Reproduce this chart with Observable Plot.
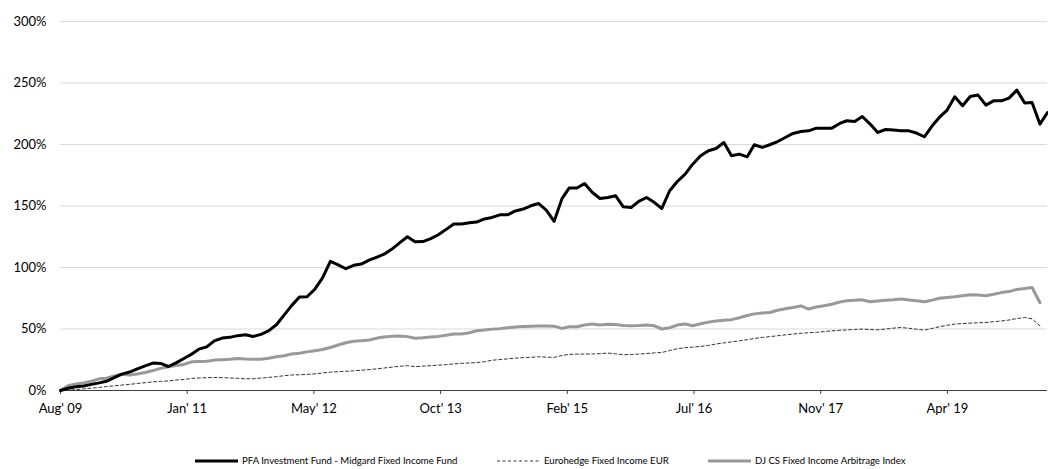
<!DOCTYPE html>
<html>
<head>
<meta charset="utf-8">
<script src="https://cdn.jsdelivr.net/npm/d3@7"></script>
<script src="https://cdn.jsdelivr.net/npm/@observablehq/plot@0.6"></script>
<style>
  html, body { margin: 0; padding: 0; background: #fff; }
  body { width: 1048px; height: 469px; overflow: hidden; font-family: Lato, "DejaVu Sans", sans-serif; }
  #chart { position: relative; width: 1048px; height: 440px; }
  #legend { position: relative; width: 1048px; height: 29px; font-size: 9.6px; color: #000; }
  .item { position: absolute; top: 15px; display: flex; align-items: center; white-space: nowrap; }
  .item svg { margin-right: 4px; }
</style>
</head>
<body>
<div id="chart"></div>
<div id="legend"></div>
<script>
// Series names
const seriesNames = [
  "PFA Investment Fund - Midgard Fixed Income Fund",
  "Eurohedge Fixed Income EUR",
  "DJ CS Fixed Income Arbitrage Index"
];

// Month-end observation dates: Aug 2009 onwards
const firstMonthEnd = "2009-08-31";
const lastMonthEnd = "2020-04-30";

// Cumulative return, % (month-end, from Aug 2009)
const pfaValues = [
  0, 1.8, 3, 3.6, 5, 6.2, 7.5, 10.5, 13.3, 15, 17.5, 20, 22.3, 22, 19.5, 22.5, 26, 29.6, 33.6, 35.5,
  40.4, 42.6, 43.2, 44.6, 45.3, 43.9, 45.6, 48.5, 53.5, 61.5, 69, 76, 76.2, 82.4, 91.5, 105, 102.2, 99, 101.8, 102.8,
  106, 108.5, 110.8, 115, 120, 125, 120.9, 121.1, 123.5, 126.6, 131, 135.3, 135.3, 136.3, 136.9, 139.5, 140.7, 142.8, 142.8, 146,
  147.5, 150.2, 152, 146.7, 137.5, 156, 164.6, 164.6, 168.3, 161, 156.1, 156.9, 158.3, 149.3, 148.8, 153.7, 156.9, 152.8, 148, 162.4,
  169.9, 175.9, 184, 190.8, 194.9, 196.7, 201.6, 190.8, 192.2, 190, 199.8, 197.6, 199.8, 202.4, 205.7, 209, 210.5, 211.1, 213.3, 213.3,
  213.3, 217.1, 219.3, 218.7, 222.8, 216.6, 209.8, 212.2, 211.7, 211.1, 211.1, 209.3, 206.3, 215.2, 222, 228, 238.8, 231.5, 239, 240.2,
  232, 235.5, 235.5, 237.7, 244.2, 233.7, 234.2, 216.6, 226
];
const eurohedgeValues = [
  0, 0.3, 0.7, 1.3, 1.9, 2.5, 3.2, 3.8, 4.4, 5, 5.7, 6.3, 7, 7.4, 7.8, 8.5, 9, 9.8, 10.2, 10.4,
  10.6, 10.4, 10.2, 9.9, 9.5, 9.5, 10.1, 10.6, 11.3, 12, 12.6, 12.8, 13.1, 13.5, 14.3, 14.9, 15.3, 15.6, 16, 16.5,
  17, 17.6, 18.3, 19, 19.7, 20.2, 19.4, 19.8, 20.2, 20.6, 21, 21.6, 22.1, 22.4, 22.7, 23.4, 24.6, 25.2, 25.7, 26.3,
  26.7, 27, 27.4, 27.1, 26.9, 28.5, 29.3, 29.6, 29.6, 29.7, 30, 30.4, 29.8, 29.1, 29.3, 29.6, 30.1, 30.6, 30.9, 32.5,
  34, 34.8, 35.3, 35.8, 36.7, 37.8, 38.7, 39.5, 40.4, 41.3, 42.3, 43.1, 43.8, 44.5, 45.2, 45.9, 46.5, 47, 47.3, 47.9,
  48.5, 48.9, 49.3, 49.6, 49.9, 49.6, 49.3, 50, 50.7, 51.2, 50.6, 49.8, 49.1, 50.5, 51.8, 53, 54, 54.4, 54.8, 55,
  55.3, 55.9, 56.5, 57.3, 58.5, 59.3, 58.2, 52.6
];
const djcsValues = [
  0, 3.8, 5.3, 6.2, 7.5, 9.5, 10, 11.8, 13.2, 12.5, 13.5, 14.6, 16.2, 18, 19.3, 20.3, 21.2, 23.3, 23.6, 23.8,
  24.7, 25, 25.4, 26, 25.6, 25.5, 25.5, 26.2, 27.4, 28.2, 29.7, 30.3, 31.4, 32.3, 33.3, 35, 37, 38.8, 40, 40.5,
  41.1, 42.6, 43.5, 44.2, 44.3, 43.8, 42.5, 42.8, 43.5, 44, 44.9, 45.9, 45.9, 47, 48.6, 49.2, 49.9, 50.3, 51, 51.6,
  52, 52.3, 52.4, 52.4, 52.3, 50.5, 51.8, 51.8, 53.2, 54, 53.2, 53.9, 53.6, 52.8, 52.6, 52.8, 53.2, 52.6, 50, 51,
  53.2, 54, 52.6, 54.3, 55.6, 56.5, 57.2, 57.6, 59.2, 61, 62.3, 63, 63.4, 65.2, 66.4, 67.5, 68.8, 66.2, 67.9, 68.9,
  70.1, 72, 72.9, 73.4, 73.7, 72.2, 72.8, 73.4, 73.7, 74.3, 73.6, 72.9, 72.1, 73.5, 75, 75.6, 76.2, 77, 77.8, 77.6,
  77.1, 78.2, 79.6, 80.4, 82.2, 82.9, 83.7, 71.5
];

// Axis ticks
const yTicks = [0, 50, 100, 150, 200, 250, 300];
const tickDates = ["2009-08-31", "2011-01-13", "2012-05-27", "2013-10-09", "2015-02-21", "2016-07-05", "2017-11-17", "2019-04-01"];
const tickLabels = ["Aug' 09", "Jan' 11", "May' 12", "Oct' 13", "Feb' 15", "Jul' 16", "Nov' 17", "Apr' 19"];

// Build month-end dates
const monthStarts = d3.utcMonth.range(d3.utcDay.offset(new Date(firstMonthEnd), 1), d3.utcDay.offset(new Date(lastMonthEnd), 2));
const monthEnds = monthStarts.map(d => d3.utcDay.offset(d, -1));

const toRows = vals => vals.map((v, i) => ({date: monthEnds[i], value: v}));
const pfa = toRows(pfaValues);
const euro = toRows(eurohedgeValues);
const djcs = toRows(djcsValues);

const tickDateObjs = tickDates.map(s => new Date(s));
const labelByTime = new Map(tickDateObjs.map((d, i) => [+d, tickLabels[i]]));

const chart = Plot.plot({
  width: 1048,
  height: 440,
  marginLeft: 60,
  marginRight: 1,
  marginTop: 21,
  marginBottom: 50,
  style: {fontFamily: "Lato, 'DejaVu Sans', sans-serif", fontSize: "13px", color: "#000", background: "#fff", overflow: "visible"},
  x: {type: "utc", domain: [new Date(firstMonthEnd), new Date(lastMonthEnd)]},
  y: {domain: [0, 300]},
  marks: [
    Plot.gridY(yTicks.slice(1), {stroke: "#d9d9d9", strokeOpacity: 1, strokeWidth: 1}),
    Plot.axisY(yTicks, {tickSize: 0, tickPadding: 14, tickFormat: d => d + "%", fontSize: 13, label: null}),
    Plot.axisX(tickDateObjs, {tickSize: 4, tickPadding: 9, tickFormat: d => labelByTime.get(+d), stroke: "#404040", fontSize: 13, label: null}),
    Plot.ruleY([0], {stroke: "#404040", strokeWidth: 1}),
    Plot.line(euro, {x: "date", y: "value", stroke: "#333", strokeWidth: 1, strokeDasharray: "3,2.5"}),
    Plot.line(djcs, {x: "date", y: "value", stroke: "#999", strokeWidth: 3, strokeLinejoin: "round"}),
    Plot.line(pfa, {x: "date", y: "value", stroke: "#000", strokeWidth: 3, strokeLinejoin: "round"})
  ]
});
document.getElementById("chart").appendChild(chart);

// Legend
const legendItems = [
  {name: seriesNames[0], left: 195, stroke: "#000", width: 3, dash: null},
  {name: seriesNames[1], left: 497, stroke: "#333", width: 1, dash: "3,2.5"},
  {name: seriesNames[2], left: 708, stroke: "#999", width: 3, dash: null}
];
const legend = d3.select("#legend");
legendItems.forEach(it => {
  const div = legend.append("div").attr("class", "item").style("left", it.left + "px");
  const s = div.append("svg").attr("width", 43).attr("height", 6);
  s.append("line").attr("x1", 0).attr("x2", 43).attr("y1", 3).attr("y2", 3)
    .attr("stroke", it.stroke).attr("stroke-width", it.width)
    .attr("stroke-dasharray", it.dash);
  div.append("span").text(it.name);
});
</script>
</body>
</html>
